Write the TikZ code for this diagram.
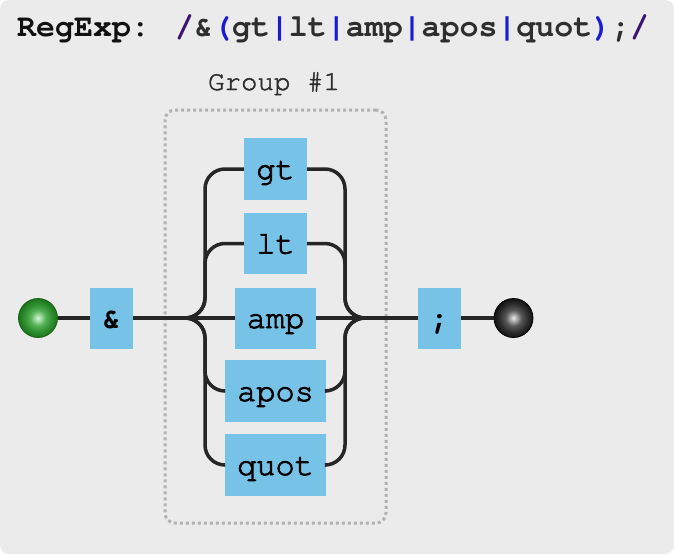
\documentclass[tikz,border=0pt]{standalone}
\usepackage{fontspec}
\newfontfamily\cur[Extension=.otf, UprightFont=*-regular, BoldFont=*-bold]{texgyrecursor}
\newfontfamily\curm[Extension=.otf, UprightFont=*-regular, FakeBold=2.6]{texgyrecursor}
\newfontfamily\curl[Extension=.otf, UprightFont=*-regular, FakeBold=1.6]{texgyrecursor}
\usetikzlibrary{calc}
\definecolor{bgc}{HTML}{EBEBEB}
\definecolor{boxblue}{HTML}{77C2E7}
\definecolor{connc}{HTML}{262626}
\definecolor{grpc}{HTML}{B2B2B2}
\definecolor{ttl}{HTML}{111111}
\definecolor{dk}{HTML}{2E2E2E}
\definecolor{blu}{HTML}{1B1BD6}
\definecolor{purp}{HTML}{3C1470}
\definecolor{gA}{HTML}{D4F6D4}
\definecolor{gB}{HTML}{55B055}
\definecolor{gC}{HTML}{2F8F2F}
\definecolor{gD}{HTML}{1C741C}
\definecolor{kA}{HTML}{EAEAEA}
\definecolor{kB}{HTML}{5A5A5A}
\definecolor{kC}{HTML}{2E2E2E}
\definecolor{kD}{HTML}{121212}
\pgfdeclareradialshading{gball}{\pgfpoint{0bp}{0bp}}{color(0bp)=(gA); color(10bp)=(gB); color(18bp)=(gC); color(25bp)=(gD); color(50bp)=(gD)}
\pgfdeclareradialshading{kball}{\pgfpoint{0bp}{0bp}}{color(0bp)=(kA); color(10bp)=(kB); color(18bp)=(kC); color(25bp)=(kD); color(50bp)=(kD)}
\tikzset{
  termbox/.style={rectangle, fill=boxblue, inner sep=0pt, minimum height=61pt, text height=24pt, text depth=4pt, font=\curm\fontsize{32pt}{36pt}\selectfont, text=black},
  symbox/.style={termbox, font=\cur\bfseries\fontsize{32pt}{36pt}\selectfont},
  conn/.style={draw=connc, line width=3.5pt},
  ball/.style={circle, inner sep=0pt, minimum size=39pt, line width=0.8pt},
  groupbox/.style={draw=grpc, line width=3pt, dash pattern=on 3pt off 3pt, rounded corners=10pt, inner sep=0pt}
}
\begin{document}
\begin{tikzpicture}[x=1pt,y=-1pt]
\useasboundingbox (0,0) rectangle (674,554);
\fill[white] (0,0) rectangle (674,554);
\fill[bgc, rounded corners=9pt] (0,0) rectangle (674,554);
% title
\node[anchor=base west, inner sep=0pt, font=\cur\bfseries\fontsize{31.6pt}{36pt}\selectfont] (title) at (17,36)
 {\color{ttl}RegExp: \color{purp}/\color{dk}\&\color{blu}(\color{dk}gt\color{blu}|\color{dk}lt\color{blu}|\color{dk}amp\color{blu}|\color{dk}apos\color{blu}|\color{dk}quot\color{blu})\color{dk};\color{purp}/};
% group
\node[groupbox, minimum width=221pt, minimum height=413pt] (grp) at (275.5,316.5) {};
\node[anchor=base, inner sep=0pt, font=\curl\fontsize{27.5pt}{30pt}\selectfont, text=dk] (glabel) at (274,90) {Group \#1};
% nodes
\node[ball, shading=gball, draw=gD!85!black] (start) at (38,318) {};
\node[symbox, minimum width=43pt] (ampsym) at (111.5,318) {\&};
\node[termbox, minimum width=63pt, minimum height=62pt] (gt) at (275.5,169) {gt};
\node[termbox, minimum width=63pt] (lt) at (275.5,243.5) {lt};
\node[termbox, minimum width=81pt] (amp) at (275.5,318) {amp};
\node[termbox, minimum width=101pt, minimum height=62pt] (apos) at (275.5,391) {apos};
\node[termbox, minimum width=101pt, minimum height=62pt] (quot) at (275.5,465) {quot};
\node[symbox, minimum width=43pt] (semi) at (439.5,318) {;};
\node[ball, shading=kball, draw=black] (end) at (513.5,318) {};
\coordinate (split) at (185,318);
\coordinate (splitv) at (205,318);
\coordinate (mergev) at (345,318);
\coordinate (merge) at (365,318);
% connectors
\draw[conn] (start) -- (ampsym);
\draw[conn] (ampsym.east) -- (amp.west);
\draw[conn] (amp.east) -- (semi.west);
\draw[conn] (semi) -- (end);
\foreach \b in {gt,lt,apos,quot}{
  \draw[conn, rounded corners=20pt] (split) -- (splitv) |- (\b.west);
  \draw[conn, rounded corners=20pt] (\b.east) -| (mergev) -- (merge);
}
\end{tikzpicture}
\end{document}
